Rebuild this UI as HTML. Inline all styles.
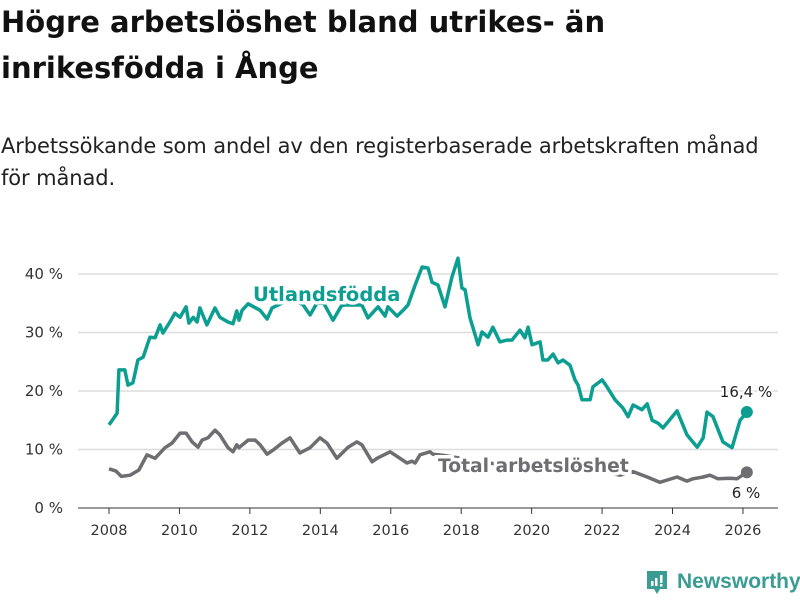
<!DOCTYPE html>
<html><head><meta charset="utf-8">
<style>
body{margin:0;background:#fff;width:800px;height:600px;overflow:hidden;font-family:"DejaVu Sans","Liberation Sans",sans-serif;}
#title{position:absolute;left:1px;top:-1px;font-size:29px;font-weight:bold;line-height:46px;color:#111;white-space:nowrap;letter-spacing:0px;}
#sub{position:absolute;left:1px;top:130px;font-size:21px;line-height:32px;color:#222;white-space:nowrap;letter-spacing:-0.1px;}
svg{position:absolute;left:0;top:0;}
</style></head><body>
<div id="title">Högre arbetslöshet bland utrikes- än<br>inrikesfödda i Ånge</div>
<div id="sub">Arbetssökande som andel av den registerbaserade arbetskraften månad<br>för månad.</div>
<svg id="chart" width="800" height="600" style="font-family:'DejaVu Sans',sans-serif"></svg>
<script>
const yTicks=[0,10,20,30,40];
const yTickLabels=["0 %","10 %","20 %","30 %","40 %"];
const xTicks=[2008,2010,2012,2014,2016,2018,2020,2022,2024,2026];
const foreignYears=[2008.0,2008.23,2008.28,2008.45,2008.54,2008.68,2008.82,2008.97,2009.16,2009.31,2009.45,2009.53,2009.73,2009.87,2010.02,2010.19,2010.27,2010.39,2010.5,2010.58,2010.78,2011.01,2011.15,2011.38,2011.52,2011.63,2011.69,2011.78,2011.95,2012.29,2012.49,2012.63,2012.9,2013.2,2013.5,2013.71,2013.9,2014.1,2014.36,2014.6,2014.7,2015.18,2015.35,2015.64,2015.84,2015.92,2016.18,2016.35,2016.49,2016.69,2016.89,2017.06,2017.17,2017.34,2017.54,2017.74,2017.91,2018.02,2018.11,2018.25,2018.48,2018.59,2018.76,2018.9,2019.1,2019.3,2019.44,2019.67,2019.81,2019.9,2020.01,2020.15,2020.24,2020.32,2020.46,2020.61,2020.75,2020.89,2021.09,2021.23,2021.32,2021.43,2021.66,2021.74,2022.0,2022.14,2022.37,2022.59,2022.74,2022.88,2023.13,2023.28,2023.42,2023.59,2023.73,2024.13,2024.41,2024.7,2024.87,2024.98,2025.15,2025.43,2025.69,2025.92,2026.11];
const foreignValues=[14.2,16.2,23.6,23.6,21.0,21.4,25.3,25.8,29.2,29.1,31.3,29.9,31.8,33.3,32.6,34.4,31.6,32.6,31.8,34.2,31.3,34.2,32.6,31.8,31.5,33.7,32.1,33.8,34.9,33.8,32.3,34.2,35.0,35.5,34.8,33.0,35.0,35.0,32.1,34.6,34.7,34.7,32.5,34.4,32.8,34.4,32.8,33.8,34.7,38.1,41.2,41.0,38.6,38.1,34.4,39.5,42.7,37.6,37.3,32.5,27.9,30.1,29.2,30.9,28.4,28.7,28.7,30.4,29.1,30.9,27.9,28.2,28.4,25.3,25.3,26.3,24.8,25.3,24.4,21.9,21.0,18.5,18.5,20.7,21.9,20.7,18.5,17.1,15.6,17.6,16.8,17.8,15.0,14.5,13.7,16.6,12.5,10.4,12.0,16.4,15.6,11.3,10.3,15.0,16.4];
const totalYears=[2008.0,2008.2,2008.35,2008.6,2008.85,2009.08,2009.31,2009.59,2009.79,2010.02,2010.19,2010.36,2010.53,2010.64,2010.81,2011.01,2011.15,2011.38,2011.52,2011.63,2011.69,2011.95,2012.15,2012.29,2012.49,2012.66,2012.91,2013.14,2013.42,2013.71,2013.99,2014.19,2014.47,2014.79,2015.04,2015.18,2015.47,2015.61,2015.98,2016.21,2016.46,2016.6,2016.69,2016.83,2017.11,2017.2,2017.5,2018.0,2018.5,2019.0,2019.5,2020.0,2020.5,2021.0,2021.5,2022.0,2022.51,2022.88,2023.28,2023.64,2024.13,2024.41,2024.58,2024.87,2025.06,2025.29,2025.63,2025.83,2026.11];
const totalValues=[6.7,6.3,5.4,5.6,6.5,9.1,8.5,10.3,11.1,12.8,12.8,11.3,10.4,11.6,12.0,13.3,12.5,10.3,9.6,10.8,10.3,11.6,11.6,10.8,9.2,9.9,11.1,12.0,9.4,10.3,12.0,11.1,8.5,10.4,11.3,10.8,7.9,8.5,9.6,8.7,7.7,8.0,7.7,9.1,9.6,9.2,9.0,8.5,8.0,7.5,7.3,7.5,7.8,7.3,6.8,6.2,5.6,6.2,5.3,4.4,5.3,4.6,5.0,5.3,5.6,5.0,5.1,5.0,6.1];
const NS="http://www.w3.org/2000/svg",svg=document.getElementById('chart');
const X=y=>109+(y-2008)*35.22, Y=v=>508-v*5.85;
function mk(t,a,p){const e=document.createElementNS(NS,t);for(const k in a)e.setAttribute(k,a[k]);(p||svg).appendChild(e);return e;}
yTicks.forEach((v,i)=>{
 const g=mk('line',{x1:78,x2:778,y1:Y(v),y2:Y(v),stroke:v===0?'#333':'#ddd','stroke-width':v===0?1:1.5});
 
 
 const t=mk('text',{x:63,y:Y(v)+5,'text-anchor':'end','font-size':15,fill:'#333'});t.textContent=yTickLabels[i];
 
 
});
xTicks.forEach(v=>{
 const l=mk('line',{x1:X(v),x2:X(v),y1:508,y2:514,stroke:'#333'});
 
 
 const t=mk('text',{x:X(v),y:535,'text-anchor':'middle','font-size':14.5,fill:'#333'});t.textContent=v;
 
 
});
function line(ys,vs,col,name){
 const d=ys.map((y,i)=>(i?'L':'M')+X(y).toFixed(1)+','+Y(vs[i]).toFixed(1)).join('');
 const p=mk('path',{d:d,fill:'none',stroke:col,'stroke-width':3.5,'stroke-linejoin':'round'});
 
 
 const n=ys.length-1;
 const c=mk('circle',{cx:X(ys[n]),cy:Y(vs[n]),r:6,fill:col});
 
 
}
line(totalYears,totalValues,'#6e6d72','total');
line(foreignYears,foreignValues,'#0c9e91','foreign');
function lab(txt,x,y,col,sz,w,anchor,name){
 const t=mk('text',{x:x,y:y,'font-size':sz,'font-weight':w,fill:col,stroke:'#fff','stroke-width':w==='bold'?7:4,'paint-order':'stroke','text-anchor':anchor});t.textContent=txt;
 
 
}
lab('Utlandsfödda',253,301,'#0c9e91',19.5,'bold','start','foreign-series-label');
lab('Total arbetslöshet',438,472,'#6e6d72',18.7,'bold','start','total-series-label');
lab('16,4 %',746,397,'#222',15,'normal','middle','foreign-end-value');
lab('6 %',746,498,'#222',15,'normal','middle','total-end-value');
</script>
<div style="position:absolute;left:645px;top:569px;display:flex;align-items:center;">
 <svg width="24" height="26" style="position:static"><path d="M2 2h20v18h-7l-3 5-3-5H2z" fill="#3a9c92"/><rect x="6" y="12" width="2.5" height="5" fill="#fff"/><rect x="10" y="9" width="2.5" height="8" fill="#fff"/><rect x="15" y="6" width="2.5" height="8" fill="#fff"/><rect x="15" y="15" width="2.5" height="2.5" fill="#fff"/></svg>
 <span style="margin-left:8px;font-size:21px;font-weight:bold;color:#3a9c92;font-family:'Liberation Sans',sans-serif;">Newsworthy</span>
</div>
</body></html>
